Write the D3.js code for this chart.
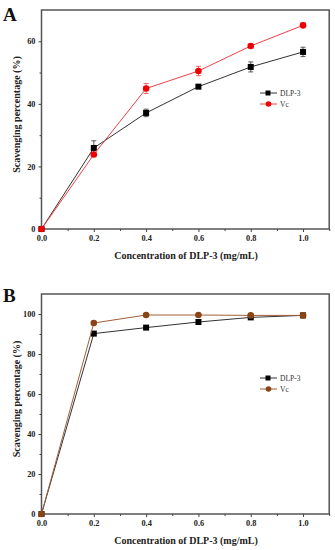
<!DOCTYPE html>
<html>
<head>
<meta charset="utf-8">
<script src="https://cdn.jsdelivr.net/npm/d3@7"></script>
<style>
  body { margin: 0; background: #fff; }
  svg text { font-family: "Liberation Serif", "DejaVu Serif", serif; font-weight: bold; }
</style>
</head>
<body>
<div class="chart"></div>
<script>
var concentrations = [0, 0.2, 0.4, 0.6, 0.8, 1.0];

var dlpA = [0, 25.9, 37.1, 45.5, 51.8, 56.6];
var dlpAErr = [0, 2.3, 1.2, 0.5, 1.6, 1.5];
var vcA = [0, 23.8, 44.9, 50.5, 58.5, 65.1];
var vcAErr = [0, 0.6, 1.6, 1.5, 0.5, 0.8];

var dlpB = [0, 90.2, 93.2, 96.0, 98.3, 99.3];
var vcB = [0, 95.5, 99.5, 99.5, 99.3, 99.3];

var xTicks = [0, 0.2, 0.4, 0.6, 0.8, 1.0];
var yTicksA = [0, 20, 40, 60];
var yTicksB = [0, 20, 40, 60, 80, 100];

var svgWidth = 335;
var svgHeight = 550;

var svg = d3.select(".chart")
  .append("svg")
  .attr("width", svgWidth)
  .attr("height", svgHeight);

function drawPanel(opts) {
  var x = d3.scaleLinear().domain([0, 1.1]).range([41.5, 329.2]);
  var y = d3.scaleLinear().domain([0, opts.yMax]).range([opts.bottom, opts.top]);
  var g = svg.append("g");

  // frame
  g.append("rect")
    .attr("x", x(0)).attr("y", opts.top)
    .attr("width", x(1.1) - x(0)).attr("height", opts.bottom - opts.top)
    .attr("fill", "none").attr("stroke", "#555").attr("stroke-width", 1.5);

  // axes: major + minor ticks, outward
  var xAxis = d3.axisBottom(x).tickValues(xTicks).tickFormat(d3.format(".1f")).tickSize(3).tickPadding(3);
  var xMinor = d3.axisBottom(x).tickValues([0.1, 0.3, 0.5, 0.7, 0.9, 1.1]).tickFormat("").tickSize(2);
  var yAxis = d3.axisLeft(y).tickValues(opts.yTicks).tickSize(3).tickPadding(3);
  var yMinor = d3.axisLeft(y).tickValues(d3.range(10, opts.yMax, 20)).tickFormat("").tickSize(2);

  [g.append("g").attr("transform", "translate(0," + opts.bottom + ")").call(xAxis),
   g.append("g").attr("transform", "translate(0," + opts.bottom + ")").call(xMinor),
   g.append("g").attr("transform", "translate(" + x(0) + ",0)").call(yAxis),
   g.append("g").attr("transform", "translate(" + x(0) + ",0)").call(yMinor)]
    .forEach(function(a) {
      a.select(".domain").remove();
      a.selectAll("line").attr("stroke", "#444").attr("stroke-width", 1);
      a.selectAll("text").attr("font-size", 8.3).attr("fill", "#222")
        .style("font-family", "'Liberation Serif', serif").style("font-weight", "bold");
    });

  // series
  opts.series.forEach(function(s) {
    var line = d3.line().x(function(d, i) { return x(concentrations[i]); }).y(function(d) { return y(d); });
    g.append("path").datum(s.values)
      .attr("d", line).attr("fill", "none")
      .attr("stroke", s.line).attr("stroke-width", 1);

    if (s.errors) {
      s.values.forEach(function(v, i) {
        var e = s.errors[i];
        if (!e) return;
        var cx = x(concentrations[i]);
        g.append("path")
          .attr("d", "M" + cx + "," + y(v + e) + "V" + y(v - e) +
                     "M" + (cx - 2.5) + "," + y(v + e) + "H" + (cx + 2.5) +
                     "M" + (cx - 2.5) + "," + y(v - e) + "H" + (cx + 2.5))
          .attr("stroke", s.line).attr("stroke-width", 0.8).attr("fill", "none");
      });
    }

    g.selectAll(null).data(s.values).enter()
      .append(s.shape === "square" ? "rect" : "circle")
      .each(function(d, i) {
        var el = d3.select(this);
        var cx = x(concentrations[i]), cy = y(d);
        if (s.shape === "square") {
          el.attr("x", cx - 3).attr("y", cy - 3).attr("width", 6).attr("height", 6);
        } else {
          el.attr("cx", cx).attr("cy", cy).attr("r", 3.3);
        }
      })
      .attr("fill", s.fill);
  });

  // legend
  opts.series.forEach(function(s, i) {
    var ly = opts.legendY + i * 11;
    g.append("line").attr("x1", 260).attr("x2", 277).attr("y1", ly).attr("y2", ly)
      .attr("stroke", s.line).attr("stroke-width", 1);
    if (s.shape === "square") {
      g.append("rect").attr("x", 265.5).attr("y", ly - 2.5).attr("width", 5).attr("height", 5).attr("fill", s.fill);
    } else {
      g.append("circle").attr("cx", 268.5).attr("cy", ly).attr("r", 2.8).attr("fill", s.fill);
    }
    g.append("text").attr("x", 280).attr("y", ly + 3)
      .attr("font-size", 7.5).style("font-weight", "normal").attr("fill", "#333")
      .text(s.name);
  });

  // panel letter
  g.append("text").attr("x", 3).attr("y", opts.letterY)
    .attr("font-size", 19).attr("fill", "#111").text(opts.letter);

  // axis titles
  g.append("text")
    .attr("transform", "translate(20," + ((opts.top + opts.bottom) / 2 - 5) + ") rotate(-90)")
    .attr("text-anchor", "middle").attr("font-size", 10).attr("fill", "#222")
    .text("Scavenging percentage (%)");

  g.append("text")
    .attr("x", 186).attr("y", opts.bottom + 30)
    .attr("text-anchor", "middle").attr("font-size", 10).attr("fill", "#222")
    .text("Concentration of DLP-3 (mg/mL)");
}

drawPanel({
  letter: "A", letterY: 21, top: 10, bottom: 229, yMax: 70, yTicks: yTicksA, legendY: 93,
  series: [
    { name: "DLP-3", values: dlpA, errors: dlpAErr, line: "#333", fill: "#000", shape: "square" },
    { name: "Vc", values: vcA, errors: vcAErr, line: "#f0404a", fill: "#ee0000", shape: "circle" }
  ]
});

drawPanel({
  letter: "B", letterY: 302, top: 294, bottom: 514, yMax: 110, yTicks: yTicksB, legendY: 378,
  series: [
    { name: "DLP-3", values: dlpB, line: "#333", fill: "#000", shape: "square" },
    { name: "Vc", values: vcB, line: "#a0603a", fill: "#8a4514", shape: "circle" }
  ]
});
</script>
</body>
</html>
